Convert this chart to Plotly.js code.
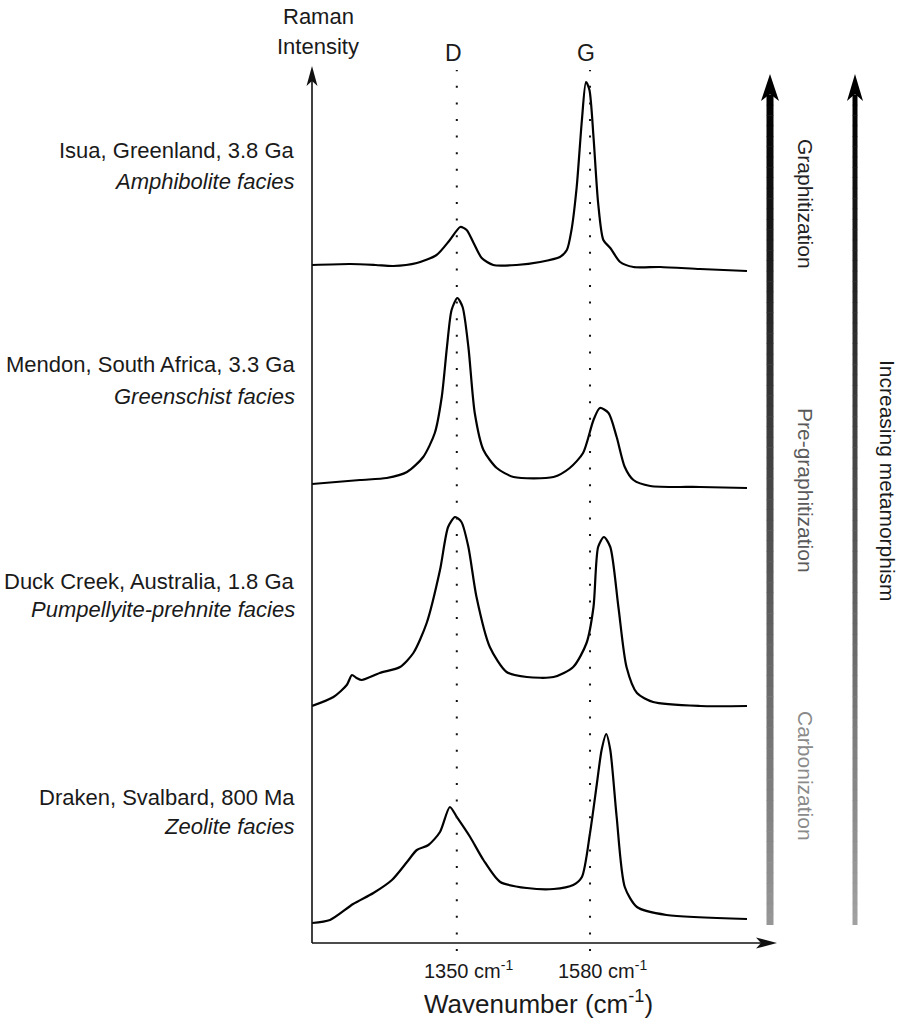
<!DOCTYPE html>
<html>
<head>
<meta charset="utf-8">
<script src="https://cdn.plot.ly/plotly-3.0.1.min.js"></script>
<style>html,body{margin:0;padding:0;background:#fff;}#chart{width:900px;height:1021px;}</style>
</head>
<body>
<div id="chart"></div>
<script>
// ---- data (wavenumber in cm-1, stacked Raman intensity in a.u.) ----
const sampleNames = ["Isua, Greenland, 3.8 Ga", "Mendon, South Africa, 3.3 Ga", "Duck Creek, Australia, 1.8 Ga", "Draken, Svalbard, 800 Ma"];
const faciesNames = ["Amphibolite facies", "Greenschist facies", "Pumpellyite-prehnite facies", "Zeolite facies"];
const bandNames = ["D", "G"];
const bandPositions = [1350, 1580];
const tickLabels = ["1350 cm<sup>-1</sup>", "1580 cm<sup>-1</sup>"];
const stageLabels = ["Graphitization", "Pre-graphitization", "Carbonization"];

const wnIsua = [1100,1166,1210,1240,1281,1315,1338,1356,1367,1379,1393,1413,1453,1494,1528,1540,1548,1557,1566,1573,1579,1586,1594,1603,1615,1632,1655,1701,1770,1851];
const intIsua = [678,679,678,677,680,688,703,716,713,700,685,678,678,681,686,693,713,756,823,861,853,806,740,703,695,681,676,676,674,672];

const wnMendon = [1100,1183,1229,1264,1292,1312,1324,1333,1341,1351,1360,1370,1381,1396,1419,1448,1517,1545,1568,1586,1597,1612,1626,1640,1655,1684,1770,1851];
const intMendon = [459,463,465,471,486,510,546,596,633,645,636,596,530,493,475,466,466,475,490,523,535,530,506,476,463,457,456,455];

const wnDuck = [1100,1137,1160,1169,1177,1186,1217,1252,1275,1298,1321,1335,1347,1358,1370,1384,1407,1436,1471,1517,1551,1574,1586,1594,1604,1615,1629,1643,1661,1689,1770,1851];
const intDuck = [237,246,258,268,265,263,270,276,290,320,373,416,426,421,396,346,296,271,266,266,276,300,336,396,406,396,336,276,250,241,237,237];

const wnDraken = [1100,1131,1171,1206,1238,1264,1281,1301,1321,1338,1350,1373,1396,1425,1471,1517,1551,1566,1580,1592,1600,1608,1615,1626,1640,1661,1712,1851];
const intDraken = [20,23,39,50,63,81,93,98,111,136,126,106,83,61,55,54,58,66,110,160,193,209,193,126,56,36,28,24];

// ---- layout geometry ----
const W = 900, H = 1021;
const L = 312, T = 66, B = 78, R = 120;
const PW = W - L - R, PH = H - T - B;
const px = p => (p - L) / PW;           // pixel x -> paper
const py = p => (H - B - p) / PH;       // pixel y -> paper
const FONT = "Liberation Sans, Arial, Helvetica, sans-serif";

const spectra = [[wnIsua, intIsua], [wnMendon, intMendon], [wnDuck, intDuck], [wnDraken, intDraken]];
const traces = spectra.map((s, i) => ({
  x: s[0], y: s[1], type: "scatter", mode: "lines", name: sampleNames[i],
  line: {color: "#000", width: 2.2, shape: "spline", smoothing: 0.7},
  hoverinfo: "skip", showlegend: false
}));

const shapes = [];
const annotations = [];

// dotted band lines
bandPositions.forEach(b => {
  shapes.push({type: "line", xref: "x", yref: "paper", x0: b, x1: b, y0: py(951), y1: py(70),
    line: {color: "#111", width: 2, dash: "2px,14.6px"}});
});

// axes with arrowheads
shapes.push({type: "line", xref: "paper", yref: "paper", x0: px(312), x1: px(312), y0: py(943), y1: py(80), line: {color: "#111", width: 1.6}});
shapes.push({type: "path", xref: "paper", yref: "paper", fillcolor: "#111", line: {width: 0},
  path: `M${px(312)},${py(66)} L${px(306.5)},${py(86)} L${px(312)},${py(81)} L${px(317.5)},${py(86)} Z`});
shapes.push({type: "line", xref: "paper", yref: "paper", x0: px(312), x1: px(765), y0: py(943), y1: py(943), line: {color: "#111", width: 1.6}});
shapes.push({type: "path", xref: "paper", yref: "paper", fillcolor: "#111", line: {width: 0},
  path: `M${px(777)},${py(943)} L${px(756)},${py(937.5)} L${px(761)},${py(943)} L${px(756)},${py(948.5)} Z`});

// gradient arrows on the right
function gradArrow(xc, width, headHalf, gBottom) {
  const yTop = 95, yBot = 925, n = 80;
  for (let k = 0; k < n; k++) {
    const a = yBot - (yBot - yTop) * k / n, b = yBot - (yBot - yTop) * (k + 1) / n;
    const t = k / (n - 1);
    const g = Math.round(gBottom * (1 - t));
    shapes.push({type: "rect", xref: "paper", yref: "paper", x0: px(xc - width / 2), x1: px(xc + width / 2),
      y0: py(a), y1: py(b - 0.5), fillcolor: `rgb(${g},${g},${g})`, line: {width: 0}});
  }
  shapes.push({type: "path", xref: "paper", yref: "paper", fillcolor: "#000", line: {width: 0},
    path: `M${px(xc)},${py(74)} L${px(xc - headHalf)},${py(101)} L${px(xc)},${py(94)} L${px(xc + headHalf)},${py(101)} Z`});
}
gradArrow(770, 7, 9, 150);
gradArrow(855, 5, 8, 160);

// labels
const txt = (text, x, y, size, extra) => Object.assign({
  text, xref: "paper", yref: "paper", x: px(x), y: py(y), showarrow: false,
  font: {family: FONT, size, color: "#1a1a1a"}, xanchor: "center", yanchor: "middle"
}, extra || {});

const firstY = [150, 365, 581, 797];
const secondY = [181, 397, 609, 826];
sampleNames.forEach((s, i) => {
  annotations.push(txt(s, 297, firstY[i], 22, {xanchor: "right"}));
  annotations.push(txt("<i>" + faciesNames[i] + "</i>", 297, secondY[i], 22, {xanchor: "right"}));
});

annotations.push(txt("Raman", 318, 17, 22));
annotations.push(txt("Intensity", 318, 47, 22));

bandNames.forEach((n, i) => {
  annotations.push({text: n, xref: "x", yref: "paper", x: bandPositions[i], y: py(53), showarrow: false,
    font: {family: FONT, size: 23, color: "#1a1a1a"}, xanchor: "center", yanchor: "middle", xshift: i === 1 ? -4 : -3});
  annotations.push({text: tickLabels[i], xref: "x", yref: "paper", x: bandPositions[i], y: py(969), showarrow: false,
    font: {family: FONT, size: 20, color: "#1a1a1a"}, xanchor: "center", yanchor: "middle", xshift: 12});
});

annotations.push(txt("Wavenumber (cm<sup>-1</sup>)", 538, 1002, 26));

const stageY = [204, 490, 776];
const stageColors = ["#222", "#5a5a5a", "#8a8a8a"];
stageLabels.forEach((s, i) => {
  annotations.push(txt(s, 806, stageY[i], 21, {textangle: 90, font: {family: FONT, size: 21, color: stageColors[i]}}));
});
annotations.push(txt("Increasing metamorphism", 887, 481, 21, {textangle: 90}));

const layout = {
  width: W, height: H,
  margin: {l: L, r: R, t: T, b: B},
  paper_bgcolor: "#fff", plot_bgcolor: "#fff",
  xaxis: {range: [1100, 1908], visible: false, fixedrange: true},
  yaxis: {range: [0, PH], visible: false, fixedrange: true},
  shapes, annotations, showlegend: false
};

Plotly.newPlot("chart", traces, layout, {staticPlot: true, displayModeBar: false});
</script>
</body>
</html>
